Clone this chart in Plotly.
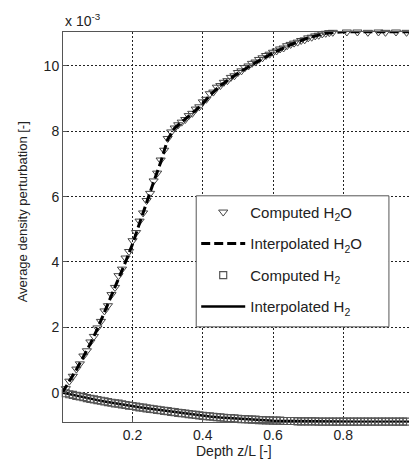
import plotly.graph_objects as go

# ---- data (values in units of 1e-3) ----
x_comp = [round(i * 0.01, 2) for i in range(100)]
h2o_comp = [0.00, 0.12, 0.35, 0.50, 0.72, 0.88, 1.12, 1.28, 1.55, 1.72,
            1.98, 2.18, 2.50, 2.66, 3.00, 3.22, 3.58, 3.78, 4.12, 4.32,
            4.65, 4.90, 5.25, 5.50, 5.88, 6.10, 6.48, 6.72, 7.12, 7.42,
            7.78, 7.98, 8.10, 8.20, 8.28, 8.36, 8.48, 8.55, 8.68, 8.75,
            8.90, 8.98, 9.15, 9.20, 9.35, 9.40, 9.50, 9.55, 9.65, 9.70,
            9.80, 9.85, 9.95, 10.00, 10.08, 10.12, 10.20, 10.25, 10.32, 10.36,
            10.42, 10.46, 10.52, 10.55, 10.62, 10.66, 10.70, 10.73, 10.78, 10.80,
            10.86, 10.88, 10.92, 10.94, 10.98, 11.00, 11.02, 11.03, 11.05, 11.05,
            11.06, 11.04, 11.06, 11.05, 11.04, 11.06, 11.05, 11.03, 11.05, 11.06,
            11.04, 11.05, 11.03, 11.06, 11.05, 11.04, 11.06, 11.05, 11.03, 11.05]
h2_comp = [0.00, -0.02, -0.05, -0.07, -0.10, -0.12, -0.14, -0.17, -0.19, -0.21,
           -0.23, -0.25, -0.27, -0.29, -0.31, -0.33, -0.34, -0.36, -0.38, -0.40,
           -0.41, -0.43, -0.45, -0.46, -0.48, -0.50, -0.51, -0.53, -0.54, -0.56,
           -0.57, -0.59, -0.60, -0.62, -0.63, -0.64, -0.66, -0.67, -0.68, -0.70,
           -0.71, -0.72, -0.73, -0.74, -0.75, -0.76, -0.77, -0.78, -0.78, -0.79,
           -0.80, -0.81, -0.81, -0.82, -0.83, -0.83, -0.84, -0.84, -0.85, -0.85,
           -0.86, -0.86, -0.86, -0.87, -0.87, -0.87, -0.87, -0.88, -0.88, -0.88,
           -0.88, -0.88, -0.88, -0.89, -0.89, -0.89, -0.89, -0.89, -0.89, -0.89,
           -0.89, -0.89, -0.89, -0.89, -0.89, -0.89, -0.89, -0.89, -0.89, -0.89,
           -0.89, -0.89, -0.89, -0.89, -0.89, -0.89, -0.89, -0.89, -0.89, -0.89]

x_interp = [0.00, 0.02, 0.04, 0.06, 0.08, 0.10, 0.12, 0.14, 0.16, 0.18,
            0.20, 0.22, 0.24, 0.26, 0.28, 0.30, 0.32, 0.34, 0.36, 0.38,
            0.40, 0.42, 0.45, 0.50, 0.55, 0.60, 0.65, 0.70, 0.75, 0.80,
            0.85, 0.90, 0.95, 1.00]
h2o_interp = [0.00, 0.33, 0.70, 1.10, 1.50, 1.95, 2.45, 2.95, 3.50, 4.00,
              4.55, 5.20, 5.85, 6.45, 7.05, 7.75, 8.10, 8.28, 8.45, 8.65,
              8.85, 9.10, 9.40, 9.78, 10.10, 10.40, 10.65, 10.86, 11.00, 11.05,
              11.05, 11.05, 11.05, 11.05]
h2_interp = [0.00, -0.05, -0.10, -0.14, -0.19, -0.23, -0.27, -0.31, -0.34, -0.38,
             -0.41, -0.45, -0.48, -0.51, -0.54, -0.57, -0.60, -0.63, -0.66, -0.68,
             -0.71, -0.73, -0.76, -0.80, -0.83, -0.86, -0.87, -0.88, -0.89, -0.89,
             -0.89, -0.89, -0.89, -0.89]

y_ticks = [0, 2, 4, 6, 8, 10]
x_ticks = [0.2, 0.4, 0.6, 0.8]

SCALE = 1e-3
FONT = "Liberation Sans, Arial, Helvetica, sans-serif"

fig = go.Figure()

fig.add_trace(go.Scatter(
    x=x_interp, y=[v * SCALE for v in h2_interp], mode="lines",
    name="Interpolated H<sub>2</sub>", legendrank=4, legendgroup="d",
    line=dict(color="black", width=2.5)))
fig.add_trace(go.Scatter(
    x=x_comp, y=[v * SCALE for v in h2_comp], mode="markers",
    name="Computed H<sub>2</sub>", legendrank=3, legendgroup="c",
    cliponaxis=False,
    marker=dict(symbol="square-open", size=7, color="#555555",
                line=dict(width=1.2, color="#555555"))))
fig.add_trace(go.Scatter(
    x=x_comp, y=[v * SCALE for v in h2o_comp], mode="markers",
    name="Computed H<sub>2</sub>O", legendrank=1, legendgroup="a",
    cliponaxis=False,
    marker=dict(symbol="triangle-down-open", size=8, color="#444444",
                line=dict(width=1, color="#444444"))))
fig.add_trace(go.Scatter(
    x=x_interp, y=[v * SCALE for v in h2o_interp], mode="lines",
    name="Interpolated H<sub>2</sub>O", legendrank=2, legendgroup="b",
    line=dict(color="black", width=3, dash="9px,4px")))

fig.update_layout(
    width=409, height=466,
    margin=dict(l=63, r=0, t=32, b=44, pad=0),
    paper_bgcolor="white", plot_bgcolor="white",
    font=dict(family=FONT, size=14, color="#222222"),
    showlegend=True,
    legend=dict(x=0.385, y=0.58, xanchor="left", yanchor="top",
                bgcolor="rgba(0,0,0,0)", borderwidth=0,
                font=dict(family=FONT, size=15, color="#222222"),
                traceorder="grouped", tracegroupgap=9, itemwidth=44),
    xaxis=dict(range=[0.002, 0.987], tickvals=x_ticks,
               ticktext=[f"{v:.1f}" for v in x_ticks],
               showgrid=True, gridcolor="#222222", gridwidth=1, griddash="2px,2px",
               showline=True, linecolor="#555555", linewidth=1, mirror=True,
               ticks="inside", ticklen=4, tickcolor="#555555",
               zeroline=False, tickfont=dict(size=14)),
    yaxis=dict(range=[-0.0009, 0.01104], tickvals=[v * SCALE for v in y_ticks],
               ticktext=[str(v) for v in y_ticks],
               showgrid=True, gridcolor="#222222", gridwidth=1, griddash="2px,2px",
               showline=True, linecolor="#555555", linewidth=1,
               ticks="inside", ticklen=4, tickcolor="#555555",
               zeroline=False, tickfont=dict(size=14)),
)

# legend frame (white box with grey border)
fig.add_shape(type="rect", xref="paper", yref="paper",
              x0=0.385, x1=0.942, y0=0.244, y1=0.58,
              fillcolor="white", line=dict(color="#555555", width=1),
              layer="above")

fig.add_annotation(text="Depth z/L [-]", xref="paper", yref="paper",
                   x=0.495, y=-0.074, xanchor="center", yanchor="middle",
                   showarrow=False, font=dict(size=14))
fig.add_annotation(text="Average density perturbation [-]", xref="paper", yref="paper",
                   x=-0.118, y=0.538, xanchor="center", yanchor="middle",
                   textangle=-90, showarrow=False, font=dict(size=13))
fig.add_annotation(text="x 10<sup>-3</sup>", xref="paper", yref="paper",
                   x=0.0, y=1.03, xanchor="left", yanchor="middle",
                   showarrow=False, font=dict(size=14))

fig.write_html("out.html")
